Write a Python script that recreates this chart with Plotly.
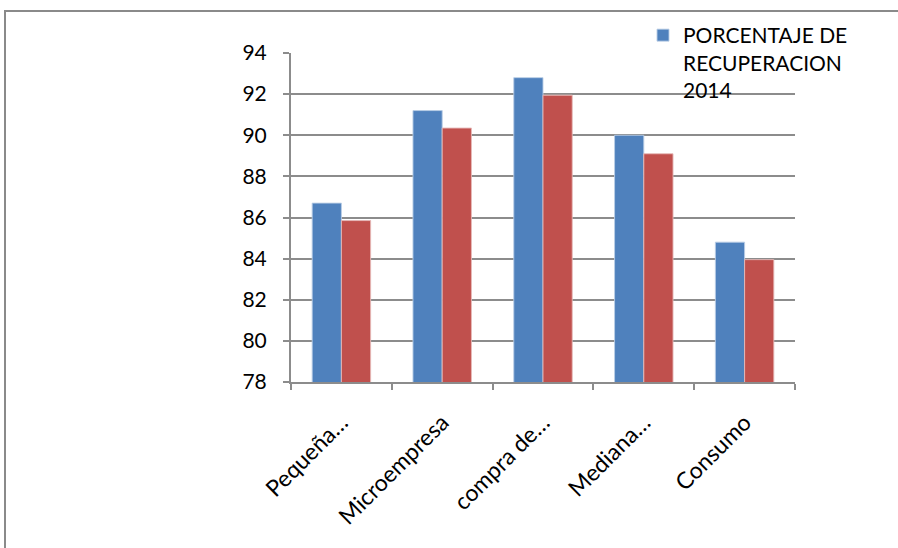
import plotly.graph_objects as go

categories = ["Pequeña…", "Microempresa", "compra de…", "Mediana…", "Consumo"]
serie_2014 = [86.7, 91.2, 92.8, 90.0, 84.8]
serie_otro = [85.85, 90.35, 91.95, 89.1, 83.95]
tick_vals = [78, 80, 82, 84, 86, 88, 90, 92, 94]
name_2014 = "PORCENTAJE DE<br>RECUPERACION<br>2014"
name_otro = "PORCENTAJE DE RECUPERACION"

FONT = "Lato, Carlito, Calibri, 'Liberation Sans', sans-serif"
GRID = "#8c8c8c"

fig = go.Figure()
fig.add_trace(go.Bar(
    x=categories, y=serie_2014, name=name_2014,
    marker=dict(color="#4F81BD", line=dict(color="rgba(185,205,229,0.9)", width=1)),
    showlegend=True,
))
fig.add_trace(go.Bar(
    x=categories, y=serie_otro, name=name_otro,
    marker=dict(color="#C0504D", line=dict(color="rgba(230,185,184,0.9)", width=1)),
    showlegend=False,
))

L, R, T, B = 291, 103, 53, 166
W, H = 898, 548
pw, ph = W - L - R, H - T - B

def px_x(px):
    return (px - L) / pw

def px_y(py):
    return (H - B - py) / ph

fig.update_layout(
    width=W, height=H,
    margin=dict(l=L, r=R, t=T, b=B, pad=0),
    paper_bgcolor="white", plot_bgcolor="white",
    barmode="group", bargap=0.42, bargroupgap=0,
    font=dict(family=FONT, size=21, color="#000000"),
    legend=dict(
        x=px_x(643), y=px_y(15), xanchor="left", yanchor="top",
        bgcolor="rgba(0,0,0,0)", valign="top",
        font=dict(family=FONT, size=21, color="#000000"),
        itemwidth=30,
    ),
    xaxis=dict(
        showline=True, linecolor=GRID, linewidth=2,
        ticks="outside", ticklen=6, tickcolor=GRID, tickwidth=1.5,
        tickson="boundaries", tickangle=-45,
        tickfont=dict(family=FONT, size=23, color="#000000"),
        ticklabelstandoff=16,
        showgrid=False,
    ),
    yaxis=dict(
        range=[78, 94], tickvals=tick_vals,
        showline=True, linecolor=GRID, linewidth=2,
        ticks="outside", ticklen=6, tickcolor=GRID, tickwidth=1.5,
        showgrid=True, gridcolor=GRID, gridwidth=2,
        zeroline=False,
        tickfont=dict(family=FONT, size=21, color="#000000"),
        ticklabelstandoff=12,
    ),
    shapes=[dict(
        type="rect", xref="paper", yref="paper",
        x0=px_x(5), x1=px_x(1000), y0=px_y(700), y1=px_y(11),
        line=dict(color="#8a8a8a", width=2), fillcolor="rgba(0,0,0,0)",
        layer="below",
    )],
)

fig.write_html("out.html")
